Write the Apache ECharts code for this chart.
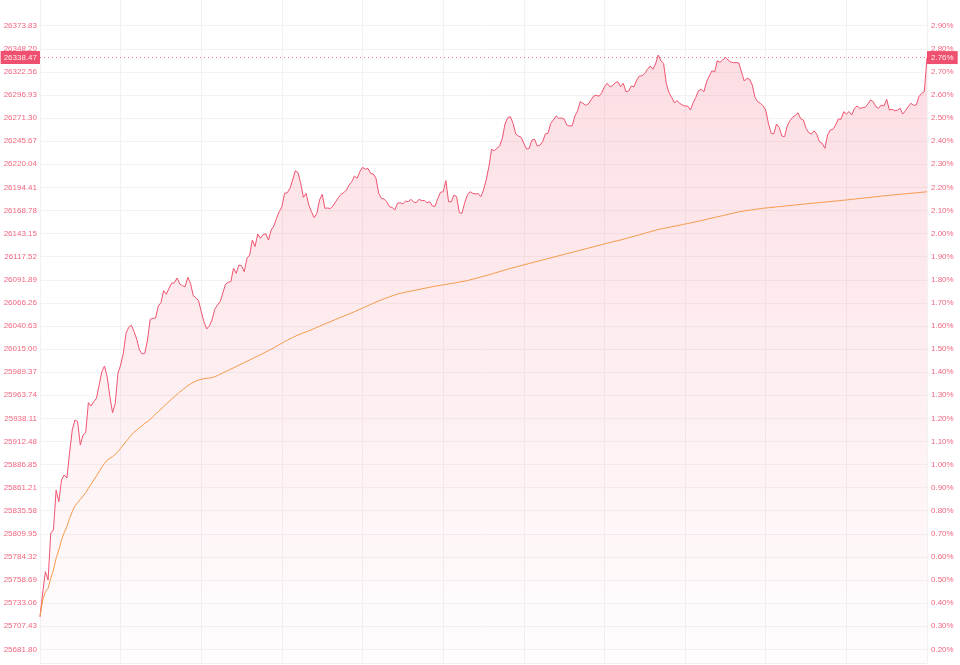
<!DOCTYPE html>
<html><head><meta charset="utf-8">
<script src="https://cdn.jsdelivr.net/npm/echarts@6/dist/echarts.min.js"></script>
<style>html,body{margin:0;padding:0;background:#fff}#c{width:960px;height:665px}</style>
</head><body><div id="c"></div>
<script>
// trading sessions (minute categories)
const sessions = [['09:30', '12:00'], ['13:01', '16:00']];

// y-axis tick labels (price, left) and percent change (right)
const priceTickLabels = ['25681.80','25707.43','25733.06','25758.69','25784.32','25809.95','25835.58','25861.21','25886.85','25912.48','25938.11','25963.74','25989.37','26015.00','26040.63','26066.26','26091.89','26117.52','26143.15','26168.78','26194.41','26220.04','26245.67','26271.30','26296.93','26322.56','26348.20','26373.83'];
const pctTickLabels = ['0.20%','0.30%','0.40%','0.50%','0.60%','0.70%','0.80%','0.90%','1.00%','1.10%','1.20%','1.30%','1.40%','1.50%','1.60%','1.70%','1.80%','1.90%','2.00%','2.10%','2.20%','2.30%','2.40%','2.50%','2.60%','2.70%','2.80%','2.90%'];
const prevClose = 25630.55;

// minute prices
const price = [
25717.99,25744.29,25767.92,25758.71,25810.87,25814.20,25858.59,25845.60,25869.68,25875.23,
25871.90,25899.65,25925.17,25936.27,25934.38,25908.52,25919.62,25922.17,25955.47,25951.80,
25956.58,25960.35,25975.11,25989.87,25996.19,25984.32,25962.12,25944.37,25954.80,25988.09,
25997.30,26010.29,26032.48,26039.14,26041.36,26034.26,26025.82,26013.95,26009.51,26010.29,
26025.05,26048.02,26049.13,26049.46,26062.78,26066.44,26079.75,26075.76,26082.42,26087.97,
26088.63,26093.85,26087.19,26085.30,26084.19,26094.62,26087.97,26074.21,26071.99,26068.66,
26056.45,26045.35,26037.25,26040.58,26047.24,26059.11,26063.89,26067.55,26076.87,26086.86,
26089.08,26089.74,26104.61,26099.06,26108.27,26107.50,26100.84,26115.71,26119.37,26136.02,
26128.58,26142.68,26137.90,26142.00,26143.10,26136.02,26147.11,26151.55,26160.10,26167.42,
26172.97,26187.84,26188.51,26193.39,26202.60,26212.92,26210.70,26198.94,26183.40,26187.84,
26174.86,26167.42,26160.76,26165.65,26180.41,26186.73,26171.20,26171.50,26171.00,26173.75,
26178.52,26182.96,26186.73,26188.51,26191.50,26197.05,26200.71,26207.04,26204.49,26211.81,
26216.69,26214.47,26215.58,26210.04,26209.26,26204.49,26187.84,26182.29,26181.52,26178.52,
26172.97,26172.30,26169.31,26176.74,26177.41,26175.97,26179.30,26178.52,26181.18,26178.20,
26177.41,26181.18,26179.63,26179.90,26177.41,26178.52,26173.75,26173.40,26182.29,26188.95,
26189.62,26201.82,26178.52,26178.30,26185.95,26184.07,26166.31,26165.65,26177.41,26185.95,
26189.62,26187.84,26187.06,26187.60,26184.07,26191.50,26202.60,26217.36,26236.67,26235.12,
26237.78,26240.33,26248.88,26264.74,26271.74,26272.85,26265.52,26253.65,26251.43,26249.99,
26243.33,26237.00,26237.78,26246.99,26247.77,26240.33,26241.11,26245.10,26253.65,26254.42,
26265.52,26269.18,26273.62,26271.07,26271.40,26270.29,26263.63,26262.53,26262.80,26273.62,
26279.50,26289.49,26287.72,26285.50,26286.94,26291.38,26295.82,26296.59,26295.60,26299.48,
26306.14,26309.91,26306.14,26307.25,26310.58,26311.69,26306.14,26309.91,26300.59,26301.37,
26306.91,26306.14,26313.57,26318.01,26318.30,26321.01,26325.45,26329.11,26325.45,26331.33,
26341.32,26334.99,26332.10,26309.91,26299.48,26294.37,26288.38,26290.60,26287.72,26285.83,
26284.72,26284.50,26280.28,26288.38,26294.37,26301.70,26303.25,26300.59,26311.69,26318.01,
26323.89,26322.45,26334.99,26333.21,26335.77,26338.76,26335.77,26333.55,26332.77,26332.90,
26332.44,26322.45,26312.46,26315.46,26314.35,26308.02,26294.37,26289.49,26287.72,26285.05,
26280.28,26265.52,26254.42,26253.65,26264.74,26261.08,26251.43,26250.65,26262.53,26268.41,
26272.18,26274.40,26277.28,26270.63,26269.18,26259.97,26255.09,26253.65,26257.31,26253.40,
26245.10,26243.33,26237.78,26252.54,26258.09,26258.86,26263.63,26270.29,26270.00,26278.39,
26275.84,26278.60,26274.73,26282.17,26284.72,26282.17,26282.83,26283.28,26286.94,26291.38,
26289.49,26283.94,26282.17,26285.83,26284.72,26292.15,26280.28,26281.06,26279.50,26280.00,
26282.17,26275.84,26279.50,26283.94,26287.72,26285.50,26285.83,26295.04,26298.81,26300.59,
26338.47
];

// average price line
const avgPrice = [
25718.00,25736.52,25745.73,25749.50,25760.60,25769.81,25782.79,25792.00,25803.10,25811.20,
25817.86,25827.18,25834.51,25840.83,25844.49,25848.27,25851.93,25855.59,25860.47,25864.91,
25869.68,25874.12,25878.89,25883.78,25888.22,25891.88,25893.76,25895.54,25898.20,25901.09,
25904.86,25908.52,25912.19,25915.96,25919.62,25922.62,25925.17,25927.72,25929.94,25932.61,
25934.38,25937.04,25939.93,25942.93,25945.48,25948.47,25951.03,25954.02,25956.58,25959.57,
25962.12,25964.79,25967.34,25969.56,25972.11,25974.33,25976.22,25978.10,25979.55,25980.66,
25981.43,25982.10,25982.54,25982.88,25983.21,25984.21,25985.54,25986.98,25988.42,25989.87,
25991.31,25992.75,25994.19,25995.64,25997.08,25998.52,25999.97,26001.41,26002.85,26004.29,
26005.74,26007.18,26008.62,26010.17,26011.73,26013.28,26014.84,26016.50,26018.16,26019.83,
26021.49,26023.27,26024.82,26026.38,26027.82,26029.26,26030.59,26031.81,26032.92,26033.92,
26035.25,26036.48,26037.81,26039.03,26040.36,26041.69,26042.91,26044.13,26045.35,26046.57,
26047.91,26049.13,26050.35,26051.57,26052.79,26054.01,26055.23,26056.45,26057.78,26059.11,
26060.45,26061.78,26063.11,26064.44,26065.77,26067.10,26068.32,26069.54,26070.77,26071.88,
26072.99,26073.98,26074.98,26075.98,26076.87,26077.42,26078.09,26078.64,26079.31,26079.87,
26080.53,26081.09,26081.75,26082.31,26082.97,26083.53,26084.19,26084.75,26085.19,26085.75,
26086.19,26086.75,26087.19,26087.74,26088.19,26088.74,26089.19,26089.85,26090.41,26090.96,
26091.74,26092.52,26093.29,26094.07,26094.96,26095.73,26096.51,26097.40,26098.29,26099.17,
26100.06,26100.95,26101.84,26102.73,26103.61,26104.50,26105.28,26106.05,26106.83,26107.61,
26108.39,26109.16,26109.94,26110.72,26111.49,26112.27,26113.05,26113.82,26114.60,26115.38,
26116.15,26116.93,26117.71,26118.48,26119.26,26120.04,26120.81,26121.59,26122.37,26123.14,
26123.92,26124.70,26125.47,26126.25,26127.03,26127.81,26128.58,26129.36,26130.14,26130.91,
26131.69,26132.47,26133.24,26134.02,26134.69,26135.35,26136.02,26136.79,26137.68,26138.46,
26139.35,26140.12,26141.01,26141.79,26142.68,26143.45,26144.34,26145.12,26146.00,26146.78,
26147.67,26148.22,26148.89,26149.44,26150.11,26150.67,26151.33,26151.89,26152.55,26153.11,
26153.77,26154.33,26154.99,26155.55,26156.21,26156.88,26157.55,26158.21,26158.99,26159.65,
26160.32,26160.99,26161.76,26162.43,26163.09,26163.76,26164.54,26165.20,26165.87,26166.53,
26167.31,26167.76,26168.20,26168.64,26169.09,26169.53,26169.97,26170.42,26170.86,26171.20,
26171.53,26171.86,26172.08,26172.42,26172.75,26173.08,26173.30,26173.64,26173.97,26174.30,
26174.52,26174.86,26175.19,26175.41,26175.75,26176.08,26176.41,26176.63,26176.97,26177.30,
26177.52,26177.85,26178.08,26178.41,26178.74,26178.96,26179.30,26179.52,26179.85,26180.18,
26180.41,26180.74,26181.07,26181.40,26181.74,26182.07,26182.40,26182.74,26183.07,26183.40,
26183.74,26184.07,26184.40,26184.73,26185.07,26185.29,26185.62,26185.84,26186.18,26186.40,
26186.73,26186.95,26187.29,26187.51,26187.84,26188.06,26188.40,26188.62,26188.95,26189.17,
26189.62
];

function buildTimes(s) {
  const out = [];
  for (const [a, b] of s) {
    let [h, m] = a.split(':').map(Number);
    const [eh, em] = b.split(':').map(Number);
    while (h * 60 + m <= eh * 60 + em) {
      out.push(String(h).padStart(2, '0') + ':' + String(m).padStart(2, '0'));
      m++; if (m === 60) { m = 0; h++; }
    }
  }
  return out;
}
const categories = buildTimes(sessions);

const priceTicks = priceTickLabels.map(Number);
const axisMin = 25666.6, axisMax = 26402.35;
const lastPrice = price[price.length - 1];
const lastPct = ((lastPrice / prevClose - 1) * 100).toFixed(2) + '%';

const red = '#ef5571';
const labelColor = '#f0667f';
const font = '"Liberation Sans", Arial, sans-serif';

const chart = echarts.init(document.getElementById('c'), null, { renderer: 'canvas' });
chart.setOption({
  animation: false,
  backgroundColor: '#ffffff',
  grid: { left: 40, right: 33, top: 0, bottom: 2, containLabel: false },
  xAxis: {
    type: 'category',
    data: categories,
    boundaryGap: false,
    axisLine: { show: true, lineStyle: { color: '#f0f0f0' } },
    axisTick: { show: false },
    axisLabel: { show: false },
    splitLine: { show: true, interval: (i) => i % 30 === 0, lineStyle: { color: '#f2f2f2', width: 1 } }
  },
  yAxis: [{
    type: 'value', position: 'left', min: axisMin, max: axisMax, scale: true,
    axisLine: { show: false }, axisTick: { show: false, customValues: priceTicks },
    axisLabel: {
      customValues: priceTicks, margin: 3, fontSize: 8, fontFamily: font, color: labelColor,
      formatter: (v) => { const k = priceTicks.indexOf(v); return k >= 0 ? priceTickLabels[k] : v.toFixed(2); }
    },
    splitLine: { show: true, lineStyle: { color: '#f3f3f3', width: 1 } }
  }, {
    type: 'value', position: 'right', min: axisMin, max: axisMax, scale: true,
    axisLine: { show: false }, axisTick: { show: false, customValues: priceTicks },
    axisLabel: {
      customValues: priceTicks, margin: 4, fontSize: 8, fontFamily: font, color: labelColor,
      formatter: (v) => { const k = priceTicks.indexOf(v); return k >= 0 ? pctTickLabels[k] : ''; }
    },
    splitLine: { show: false }
  }],
  series: [{
    name: 'price', type: 'line', data: price, showSymbol: false, symbol: 'none',
    lineStyle: { color: red, width: 1 },
    itemStyle: { color: red },
    areaStyle: {
      origin: 'start',
      color: new echarts.graphic.LinearGradient(0, 0, 0, 1, [
        { offset: 0, color: 'rgba(240,80,108,0.27)' },
        { offset: 1, color: 'rgba(240,80,108,0.015)' }
      ])
    },
    z: 3,
    markLine: {
      silent: true, symbol: 'none', animation: false,
      lineStyle: { color: '#f27a92', type: [1, 3], width: 1, opacity: 0.9 },
      data: [
        { yAxis: lastPrice, label: { show: true, position: 'start', distance: 0, formatter: lastPrice.toFixed(2),
          color: '#fff', backgroundColor: '#ee3d5f', padding: [3, 3, 2, 3], fontSize: 8, fontFamily: font } },
        { yAxis: lastPrice, label: { show: true, position: 'end', distance: 0, formatter: lastPct,
          color: '#fff', backgroundColor: '#ee3d5f', padding: [3, 4, 2, 4], fontSize: 8, fontFamily: font } }
      ]
    }
  }, {
    name: 'avg', type: 'line', data: avgPrice, showSymbol: false, symbol: 'none',
    lineStyle: { color: '#f59a4a', width: 1 }, itemStyle: { color: '#f59a4a' }, z: 4
  }]
});
</script>
</body></html>
